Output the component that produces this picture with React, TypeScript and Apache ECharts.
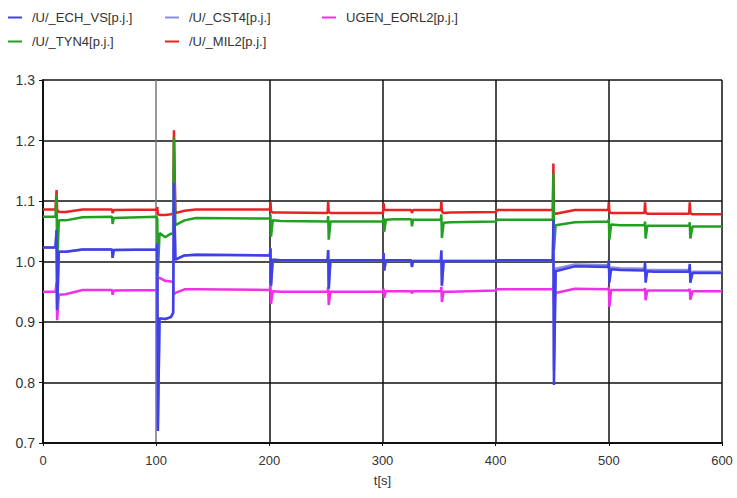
import React, { useEffect, useRef } from "react";
import * as echarts from "echarts";

const T = [
  0, 11, 12, 12.5, 14, 20, 35,
  61, 61.5, 62.5,
  100.5, 101, 101.5, 103, 108, 113, 115, 115.7, 117, 125, 135,
  200.5, 201, 201.5, 203, 210,
  251.5, 252, 252.5, 254, 260,
  300.5, 301, 301.5, 303, 310,
  325.5, 326, 327,
  351.5, 352, 352.5, 354, 360,
  400.5, 401,
  450.5, 451, 451.5, 453, 470,
  499.5, 500, 500.5, 502, 510,
  531.5, 532, 532.5, 534, 540,
  571, 571.5, 572, 574, 580,
  600,
];

const MIL2 = [
  1.086, 1.086, 1.118, 1.085, 1.082, 1.082, 1.086,
  1.086, 1.08, 1.085,
  1.086, 1.09, 1.078, 1.077, 1.077, 1.078, 1.08, 1.217, 1.08, 1.084, 1.086,
  1.086, 1.099, 1.083, 1.081, 1.081,
  1.08, 1.099, 1.082, 1.08, 1.08,
  1.08, 1.096, 1.086, 1.085, 1.085,
  1.085, 1.08, 1.085,
  1.085, 1.099, 1.083, 1.08, 1.081,
  1.082, 1.085,
  1.085, 1.162, 1.08, 1.079, 1.085,
  1.085, 1.098, 1.082, 1.08, 1.08,
  1.08, 1.098, 1.081, 1.079, 1.079,
  1.079, 1.098, 1.08, 1.078, 1.078,
  1.078,
];

const TYN4 = [
  1.074, 1.074, 1.11, 0.99, 1.068, 1.068, 1.073,
  1.074, 1.062, 1.072,
  1.074, 1.07, 0.98, 1.047, 1.04, 1.046, 1.046, 1.205, 1.06, 1.068, 1.072,
  1.071, 1.078, 1.041, 1.068, 1.067,
  1.066, 1.075, 1.036, 1.066, 1.066,
  1.066, 1.072, 1.049, 1.069, 1.07,
  1.07, 1.058, 1.069,
  1.069, 1.078, 1.039, 1.064, 1.065,
  1.066, 1.069,
  1.069, 1.146, 1.02, 1.06, 1.065,
  1.066, 1.07, 1.036, 1.061, 1.06,
  1.06, 1.066, 1.038, 1.059, 1.059,
  1.059, 1.065, 1.038, 1.058, 1.058,
  1.058,
];

const ECH_VS = [
  1.023, 1.023, 1.052, 0.92, 1.016, 1.016, 1.02,
  1.02, 1.006, 1.019,
  1.02, 1.03, 0.72, 0.906, 0.905, 0.908, 0.915, 1.13, 1.003, 1.01, 1.011,
  1.01, 1.022, 0.96, 1.003, 1.002,
  1.002, 1.019, 0.955, 1.002, 1.002,
  1.002, 1.014, 0.985, 1.002, 1.002,
  1.002, 0.991, 1.001,
  1.001, 1.018, 0.96, 1.001, 1.001,
  1.001, 1.002,
  1.002, 1.069, 0.796, 0.984, 0.992,
  0.991, 1.002, 0.965, 0.987, 0.986,
  0.985, 0.998, 0.965, 0.984, 0.983,
  0.983, 0.996, 0.965, 0.981, 0.981,
  0.981,
];

const CST4 = [
  1.023, 1.023, 1.052, 0.92, 1.016, 1.016, 1.02,
  1.02, 1.006, 1.019,
  1.02, 1.03, 0.72, 0.906, 0.905, 0.908, 0.915, 1.13, 1.003, 1.01, 1.011,
  1.01, 1.022, 0.96, 1.003, 1.002,
  1.002, 1.019, 0.955, 1.002, 1.002,
  1.002, 1.014, 0.985, 1.002, 1.002,
  1.002, 0.991, 1.001,
  1.001, 1.018, 0.96, 1.001, 1.001,
  1.001, 1.002,
  1.002, 1.06, 0.82, 0.988, 0.995,
  0.994, 0.999, 0.975, 0.99, 0.989,
  0.988, 0.995, 0.975, 0.986, 0.986,
  0.986, 0.993, 0.975, 0.983, 0.983,
  0.983,
];

const UGEN_EORL2 = [
  0.95, 0.95, 0.965, 0.903, 0.945, 0.946, 0.953,
  0.953, 0.945, 0.952,
  0.953, 0.945, 0.972, 0.973, 0.968, 0.967, 0.966, 0.946, 0.948, 0.954, 0.954,
  0.953, 0.964, 0.93, 0.951, 0.95,
  0.95, 0.958, 0.928, 0.95, 0.95,
  0.95, 0.955, 0.94, 0.951, 0.951,
  0.951, 0.947, 0.951,
  0.951, 0.958, 0.933, 0.95, 0.95,
  0.952, 0.954,
  0.954, 0.96, 0.93, 0.948, 0.955,
  0.954, 0.958, 0.925, 0.953, 0.953,
  0.953, 0.956, 0.936, 0.952, 0.952,
  0.952, 0.955, 0.937, 0.951, 0.951,
  0.951,
];

const NAMES = ["/U/_ECH_VS[p.j.]", "/U/_CST4[p.j.]", "UGEN_EORL2[p.j.]", "/U/_TYN4[p.j.]", "/U/_MIL2[p.j.]"];
const X_TICKS = [0, 100, 200, 300, 400, 500, 600];
const Y_MIN = 0.7;
const Y_MAX = 1.3;

const COLORS: Record<string, string> = {
  "/U/_ECH_VS[p.j.]": "#4040e8",
  "/U/_CST4[p.j.]": "#8c8cdc",
  "UGEN_EORL2[p.j.]": "#f030e8",
  "/U/_TYN4[p.j.]": "#22a022",
  "/U/_MIL2[p.j.]": "#e82222",
};

const LEGEND_POS: [number, number][] = [
  [8, 11],
  [165, 11],
  [322, 11],
  [8, 35],
  [165, 35],
];

function pairs(vals: number[]) {
  return T.map((t, i) => [t, vals[i]]);
}

export default function App() {
  const ref = useRef<HTMLDivElement>(null);
  useEffect(() => {
    if (!ref.current) return;
    const chart = echarts.init(ref.current, undefined, { renderer: "svg" });
    const font = "Liberation Sans";
    const mk = (name: string, vals: number[], z: number) => ({
      name,
      type: "line",
      data: pairs(vals),
      showSymbol: false,
      symbol: "none",
      z,
      lineStyle: { color: COLORS[name], width: 2.5 },
      itemStyle: { color: COLORS[name] },
    });
    chart.setOption({
      animation: false,
      backgroundColor: "#fff",
      textStyle: { fontFamily: font },
      legend: NAMES.map((n, i) => ({
        data: [n],
        left: LEGEND_POS[i][0],
        top: LEGEND_POS[i][1],
        padding: 0,
        icon: "rect",
        itemWidth: 14,
        itemHeight: 2,
        selectedMode: false,
        textStyle: { fontFamily: font, fontSize: 13, color: "#333", padding: [0, 0, 0, 5] },
      })),
      grid: { left: 43, right: 15, top: 80, bottom: 55, containLabel: false },
      xAxis: {
        type: "value",
        min: X_TICKS[0],
        max: X_TICKS[X_TICKS.length - 1],
        interval: 100,
        name: "t[s]",
        nameLocation: "middle",
        nameGap: 31,
        nameTextStyle: { fontFamily: font, fontSize: 13, color: "#333" },
        axisLine: { show: true, lineStyle: { color: "#111", width: 2 } },
        axisTick: { show: true, length: 3, lineStyle: { color: "#111" } },
        axisLabel: { fontFamily: font, fontSize: 13, color: "#333", margin: 11 },
        splitLine: {
          show: true,
          lineStyle: { color: ["#111", "#777", "#111", "#111", "#111", "#111", "#111"], width: 1.5 },
        },
      },
      yAxis: {
        type: "value",
        min: Y_MIN,
        max: Y_MAX,
        interval: 0.1,
        axisLine: { show: true, lineStyle: { color: "#111", width: 2 } },
        axisTick: { show: true, length: 4, lineStyle: { color: "#111" } },
        axisLabel: {
          fontFamily: font,
          fontSize: 14,
          color: "#333",
          margin: 8,
          formatter: (v: number) => v.toFixed(1),
        },
        splitLine: { show: true, lineStyle: { color: "#111", width: 1.5 } },
      },
      series: [
        mk(NAMES[4], MIL2, 2),
        mk(NAMES[3], TYN4, 3),
        mk(NAMES[2], UGEN_EORL2, 4),
        mk(NAMES[1], CST4, 5),
        mk(NAMES[0], ECH_VS, 6),
      ],
    });
    return () => chart.dispose();
  }, []);
  return <div ref={ref} style={{ width: 737, height: 498, position: "absolute", left: 0, top: 0 }} />;
}
